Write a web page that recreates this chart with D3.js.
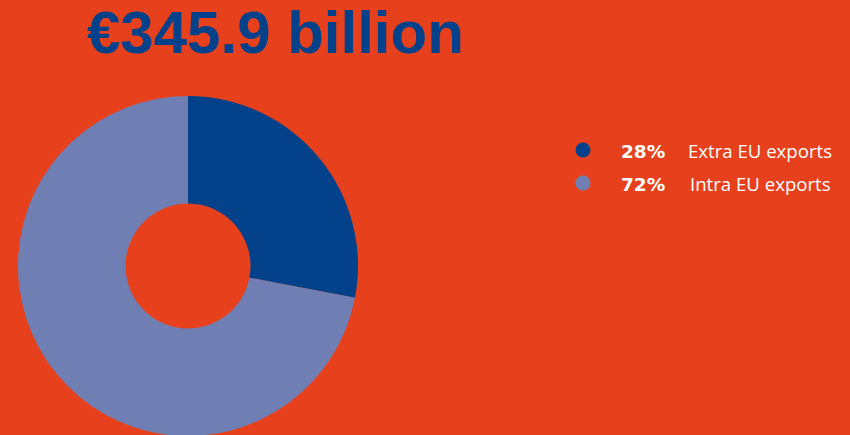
<!DOCTYPE html>
<html>
<head>
<meta charset="utf-8">
<script src="https://cdn.jsdelivr.net/npm/d3@7"></script>
<style>
  html, body { margin: 0; padding: 0; background: #E6411C; }
  svg { display: block; }
</style>
</head>
<body>
<svg id="chart" width="850" height="435"></svg>
<script>
// Total value and export split
const totalLabel = "€345.9 billion";
const categories = ["Extra EU exports", "Intra EU exports"];
const shares = [28, 72];
const colors = ["#03418A", "#6F7FB4"];

const width = 850, height = 435;
const svg = d3.select("#chart");

svg.append("rect")
  .attr("width", width).attr("height", height)
  .attr("fill", "#E6411C");

// Headline total
svg.append("text")
  .attr("x", 87).attr("y", 53)
  .attr("font-family", "'Liberation Sans', Arial, sans-serif")
  .attr("font-weight", "bold")
  .attr("font-size", 60)
  .attr("fill", "#03418A")
  .text(totalLabel);

// Donut
const data = categories.map((c, i) => ({ name: c, value: shares[i], color: colors[i] }));
const pie = d3.pie().value(d => d.value).sort(null);
const arc = d3.arc().innerRadius(62.5).outerRadius(170);

svg.append("g")
  .attr("transform", "translate(188,266)")
  .selectAll("path")
  .data(pie(data))
  .join("path")
  .attr("d", arc)
  .attr("fill", d => d.data.color);

// Legend
const legend = svg.append("g")
  .selectAll("g")
  .data(data)
  .join("g")
  .attr("transform", (d, i) => `translate(0,${150 + i * 33})`);

legend.append("circle")
  .attr("cx", 583).attr("cy", 0).attr("r", 7.5)
  .attr("fill", d => d.color);

legend.append("text")
  .attr("x", 621).attr("y", 8)
  .attr("font-family", "'DejaVu Sans', sans-serif")
  .attr("font-weight", "bold")
  .attr("font-size", 18.5)
  .attr("fill", "#fff")
  .text(d => d.value + "%");

legend.append("text")
  .attr("x", (d, i) => i === 0 ? 688 : 690).attr("y", 8)
  .attr("font-family", "'Open Sans', sans-serif")
  .attr("font-size", 18.6)
  .attr("fill", "#fff")
  .text(d => d.name);
</script>
</body>
</html>
